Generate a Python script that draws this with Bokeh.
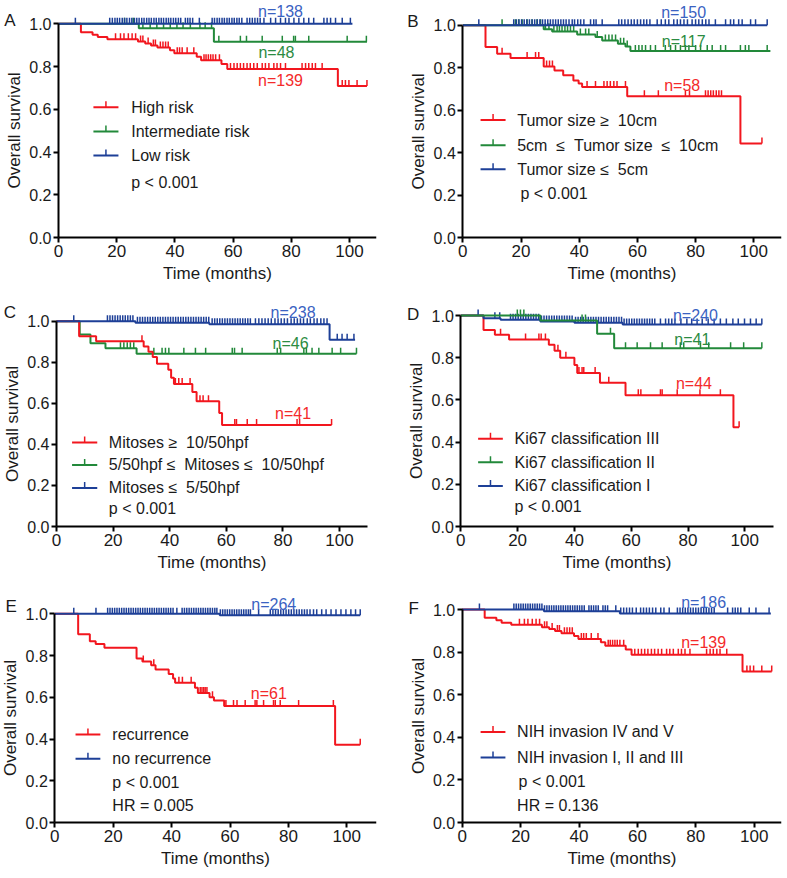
import numpy as np
from bokeh.plotting import figure
from bokeh.layouts import column, row
from bokeh.models import Label, FixedTicker, PrintfTickFormatter, Range1d
from bokeh.embed import file_html
from bokeh.resources import INLINE

FONT = "Liberation Sans"
RED, GREEN, BLUE = "#f2161e", "#22893a", "#1d3f97"
RED_T, GREEN_T, BLUE_T = "#f42a2a", "#2b8b42", "#3a62c2"
TXT = "#1a1a1a"
NB = "\u00a0"

X_TICKS = [0, 20, 40, 60, 80, 100]
Y_TICKS = [0.0, 0.2, 0.4, 0.6, 0.8, 1.0]

# ---------------- data (months, survival) ----------------
# High risk / NIH invasion IV and V (n=139)  -- panels A and F
HIGH_T = [0, 7.7, 11.7, 13.5, 16.8, 27.3, 29.8, 31.8, 34.0, 38.3, 39.8, 47.5, 49.0, 56.0, 58.0, 96.0]
HIGH_S = [1.0, 0.961, 0.949, 0.938, 0.928, 0.917, 0.908, 0.899, 0.889, 0.876, 0.862, 0.846, 0.830, 0.812, 0.788, 0.709]
HIGH_END = 106.0
HIGH_CENS = [19.6, 21.3, 22.5, 24.0, 25.3, 26.5, 28.2, 29.0, 30.8, 32.6, 33.3, 35.0, 35.9, 36.8, 37.7, 40.8, 41.6,
             42.5, 44.2, 46.5, 50.0, 50.7, 51.5, 52.3, 53.1, 54.0, 55.3, 59.1, 60.3, 61.4, 62.5, 63.6, 64.8, 65.9,
             67.1, 68.3, 70.0, 71.1, 72.3, 74.0, 75.1, 76.3, 78.0, 83.7, 84.9, 86.0, 87.2, 88.3, 90.6, 97.5, 98.6,
             99.8, 102.6, 106.0]

A_INT_T = [0, 27.6, 53.4]
A_INT_S = [1.0, 0.979, 0.916]
A_INT_END = 106.0
A_INT_CENS = [22.7, 25.7, 29.0, 31.5, 33.8, 36.1, 38.4, 40.7, 42.8, 45.3, 48.6, 50.4, 52.6, 55.1, 62.5, 64.6, 70.0,
              76.9, 80.8, 81.4, 86.0, 99.2, 105.8]

A_LOW_T = [0]
A_LOW_S = [1.0]
A_LOW_END = 101.0
A_LOW_CENS = [5.8, 17.6, 18.5, 19.4, 20.2, 21.0, 21.9, 22.7, 23.5, 24.4, 25.2, 26.1, 26.9, 27.7, 28.6, 29.4, 30.3,
              31.1, 31.9, 32.8, 33.6, 34.5, 35.3, 36.1, 37.0, 37.8, 38.6, 39.5, 40.3, 41.2, 42.0, 43.6, 44.4, 45.2,
              46.1, 48.4, 52.8, 53.6, 54.5, 55.3, 56.2, 57.0, 57.9, 58.7, 59.6, 60.4, 61.3, 62.1, 63.0, 64.8, 65.7,
              66.6, 67.5, 68.4, 69.3, 70.6, 72.9, 74.6, 76.3, 78.0, 79.2, 80.9, 82.6, 84.3, 86.0, 87.7, 91.2, 92.3,
              93.5, 95.2, 97.5, 100.3]

B_L_T = [0, 7.8, 11.8, 16.4, 27.8, 31.5, 34.5, 38.0, 39.8, 41.0, 56.5, 95.4]
B_L_S = [1.0, 0.897, 0.866, 0.845, 0.806, 0.787, 0.764, 0.740, 0.725, 0.709, 0.665, 0.443]
B_L_END = 102.8
B_L_CENS = [13.5, 22.1, 25.0, 26.1, 28.8, 29.8, 30.8, 42.7, 45.6, 48.5, 49.6, 50.7, 51.9, 53.0, 55.9, 62.4, 67.2,
            76.5, 77.9, 83.4, 84.3, 85.2, 86.1, 87.1, 88.0, 88.9, 102.8]

B_M_T = [0, 27.8, 30.7, 39.3, 45.6, 47.9, 53.3, 55.9, 57.6]
B_M_S = [1.0, 0.981, 0.970, 0.956, 0.944, 0.928, 0.913, 0.900, 0.878]
B_M_END = 105.7
B_M_CENS = [13.5, 18.1, 19.2, 20.4, 22.1, 23.8, 25.5, 26.7, 28.4, 29.6, 31.3, 32.4, 33.2, 34.1, 35.1, 36.0, 37.0,
            38.1, 40.4, 42.2, 43.3, 46.2, 49.0, 50.2, 51.3, 52.5, 54.2, 55.3, 56.5, 59.3, 60.5, 61.6, 62.8, 64.5,
            66.2, 69.6, 71.4, 73.1, 74.8, 76.5, 77.7, 80.0, 81.7, 84.0, 85.7, 88.6, 90.3, 95.4, 97.1, 98.3, 104.6]

B_S_T = [0]
B_S_S = [1.0]
B_S_END = 104.6
B_S_CENS = [5.5, 17.5, 18.4, 19.3, 20.2, 21.1, 22.0, 22.9, 23.8, 24.7, 25.6, 26.5, 27.4, 28.3, 29.2, 30.1, 31.0,
            31.9, 32.8, 33.7, 34.6, 35.5, 36.5, 37.6, 38.4, 39.5, 40.5, 41.6, 43.9, 45.0, 45.8, 47.9, 53.6, 54.6,
            55.7, 56.8, 57.9, 58.9, 60.0, 61.1, 62.2, 63.2, 64.3, 66.8, 68.2, 69.6, 70.8, 72.5, 73.7, 74.8, 76.0,
            77.2, 78.8, 80.0, 81.1, 82.3, 83.5, 84.6, 86.8, 90.3, 92.0, 93.1, 94.8, 96.0, 98.9, 100.6, 104.6]

C_H_T = [0, 8.0, 14.0, 30.8, 32.5, 34.0, 35.5, 39.5, 40.5, 41.5, 48.0, 49.5, 57.5, 58.5]
C_H_S = [1.0, 0.927, 0.902, 0.877, 0.851, 0.826, 0.793, 0.763, 0.725, 0.694, 0.655, 0.610, 0.553, 0.495]
C_H_END = 97.2
C_H_CENS = [30.2, 42.0, 43.2, 44.4, 47.2, 50.7, 51.8, 53.7, 63.0, 63.6, 67.4, 70.7, 85.0, 85.9, 97.2]

C_M_T = [0, 8.2, 12.0, 17.3, 28.3]
C_M_S = [1.0, 0.935, 0.892, 0.868, 0.842]
C_M_END = 106.0
C_M_CENS = [22.6, 23.8, 25.0, 26.1, 27.3, 34.4, 37.3, 38.5, 39.7, 45.0, 49.1, 52.7, 62.1, 62.9, 65.6, 78.0, 79.2,
            87.4, 88.3, 90.3, 92.7, 97.4, 100.4, 106.0]

C_L_T = [0, 27.9, 54.0, 96.5]
C_L_S = [1.0, 0.993, 0.985, 0.910]
C_L_END = 105.5
C_L_CENS = [6.1, 18.0, 18.9, 19.8, 20.7, 21.6, 22.5, 23.4, 24.3, 25.2, 26.1, 27.0, 28.6, 29.5, 30.4, 31.3, 32.2,
            33.1, 34.0, 34.9, 35.8, 36.7, 37.6, 38.5, 39.4, 40.3, 41.2, 42.1, 43.0, 43.9, 44.8, 45.7, 46.6, 47.5,
            48.4, 49.3, 50.2, 51.1, 52.0, 52.9, 53.8, 55.0, 55.9, 56.8, 57.7, 58.6, 59.5, 60.4, 61.3, 62.2, 63.1,
            64.0, 64.9, 65.8, 66.7, 67.6, 68.5, 70.3, 71.5, 72.6, 73.7, 74.8, 75.9, 77.2, 78.3, 79.4, 80.5, 81.6,
            82.9, 84.0, 85.1, 86.2, 87.3, 88.6, 89.7, 91.0, 92.1, 93.4, 94.5, 95.6, 99.2, 100.9, 102.7, 105.1]

D_H_T = [0, 8.0, 12.0, 17.0, 31.0, 33.0, 35.0, 40.0, 41.0, 49.0, 58.0, 96.0]
D_H_S = [1.0, 0.931, 0.909, 0.886, 0.861, 0.833, 0.800, 0.765, 0.727, 0.681, 0.622, 0.470]
D_H_END = 98.0
D_H_CENS = [14.0, 22.8, 27.5, 28.3, 29.8, 34.2, 37.0, 41.6, 42.7, 43.3, 47.3, 52.1, 62.5, 63.4, 70.3, 70.9, 76.2,
            84.2, 91.4, 98.0]

D_M_T = [0, 28.0, 48.0, 54.0]
D_M_S = [1.0, 0.976, 0.914, 0.845]
D_M_END = 106.0
D_M_CENS = [19.9, 21.0, 22.2, 42.7, 43.9, 52.7, 58.0, 62.1, 66.8, 70.9, 77.3, 78.5, 84.4, 87.3, 95.0, 99.6, 106.0]

D_L_T = [0, 8.0, 14.0, 28.0, 40.0, 57.0]
D_L_S = [1.0, 0.987, 0.980, 0.972, 0.966, 0.957]
D_L_END = 106.0
D_L_CENS = [6.1, 12.0, 13.7, 17.5, 18.4, 19.3, 20.2, 21.1, 22.0, 22.9, 23.8, 24.7, 25.6, 26.5, 27.4, 28.4, 29.3,
            30.2, 31.1, 32.0, 32.9, 33.8, 34.7, 35.6, 36.5, 37.4, 38.3, 39.2, 40.4, 41.3, 42.2, 43.1, 44.0, 44.9,
            45.8, 46.7, 47.6, 48.5, 49.4, 50.3, 51.2, 52.1, 53.0, 53.9, 54.8, 55.7, 56.6, 57.5, 58.4, 59.3, 60.2,
            61.1, 62.0, 62.9, 63.8, 64.7, 65.6, 66.5, 67.4, 68.3, 70.3, 72.1, 73.2, 74.3, 75.4, 77.5, 79.6, 81.3,
            83.2, 85.0, 87.1, 89.2, 91.4, 93.5, 95.8, 97.7, 99.9, 102.0, 104.0, 106.0]

E_R_T = [0, 8.0, 12.0, 14.0, 17.0, 28.0, 30.0, 33.0, 34.5, 39.0, 40.5, 41.2, 48.0, 49.0, 53.0, 54.5, 58.0, 96.0]
E_R_S = [1.0, 0.902, 0.869, 0.855, 0.837, 0.786, 0.771, 0.754, 0.733, 0.712, 0.690, 0.670, 0.646, 0.621, 0.600,
         0.584, 0.558, 0.372]
E_R_END = 104.6
E_R_CENS = [30.3, 33.9, 42.5, 43.7, 46.7, 49.8, 50.4, 51.0, 51.5, 52.1, 54.0, 58.6, 61.2, 62.4, 65.2, 68.6, 69.2,
            71.5, 74.9, 75.5, 77.2, 83.5, 95.4, 104.6]

E_N_T = [0, 56.5]
E_N_S = [1.0, 0.993]
E_N_END = 104.6
E_N_CENS = [6.5, 14.1, 18.1, 18.9, 19.7, 20.5, 21.3, 22.1, 22.9, 23.7, 24.5, 25.3, 26.1, 26.9, 27.7, 28.5, 29.3,
            30.1, 30.9, 31.7, 32.5, 33.3, 34.1, 34.9, 35.7, 36.5, 37.3, 38.1, 38.9, 39.7, 40.5, 41.8, 43.6, 44.4,
            45.2, 46.0, 46.8, 47.6, 48.4, 49.2, 50.0, 50.8, 51.6, 52.4, 53.2, 54.0, 54.8, 55.5, 56.7, 57.5, 58.3,
            59.1, 59.9, 60.7, 61.5, 62.3, 63.1, 63.9, 64.7, 65.5, 66.3, 67.0, 69.8, 73.8, 74.7, 75.6, 76.5, 77.4,
            78.3, 79.2, 80.1, 81.0, 81.9, 82.8, 83.7, 84.6, 85.5, 86.4, 87.4, 88.6, 89.7, 91.4, 92.9, 94.6, 96.3,
            98.0, 99.7, 101.4, 103.0, 104.6]

F_L_T = [0, 28.0, 54.0]
F_L_S = [1.0, 0.992, 0.981]
F_L_END = 105.7
F_L_CENS = [5.9, 17.7, 18.5, 19.3, 20.1, 20.9, 21.7, 22.5, 23.3, 24.1, 24.9, 25.7, 26.5, 27.3, 28.2, 29.0, 29.8,
            30.6, 31.4, 32.2, 33.0, 33.8, 34.6, 35.4, 36.2, 37.0, 37.8, 38.6, 39.4, 40.2, 41.0, 41.8, 43.4, 44.2,
            45.0, 45.8, 46.6, 48.2, 49.0, 49.8, 52.6, 54.3, 55.3, 56.3, 57.3, 58.3, 59.6, 61.1, 62.1, 63.1, 64.1,
            65.2, 66.3, 68.0, 69.1, 70.9, 73.7, 74.6, 75.5, 76.4, 77.3, 78.2, 79.1, 80.0, 80.9, 81.8, 82.7, 83.6,
            84.5, 85.4, 86.3, 90.9, 92.6, 93.5, 94.4, 95.4, 98.3, 100.6, 105.1]

FRAME_W = 376


def style_axes(p):
    p.outline_line_color = None
    p.xgrid.visible = False
    p.ygrid.visible = False
    p.background_fill_color = "white"
    p.border_fill_color = "white"
    for ax in (p.xaxis[0], p.yaxis[0]):
        ax.axis_line_width = 2
        ax.axis_line_color = "black"
        ax.major_tick_line_width = 2
        ax.major_tick_line_color = "black"
        ax.major_tick_out = 5
        ax.major_tick_in = 0
        ax.minor_tick_line_color = None
        ax.major_label_text_font = FONT
        ax.major_label_text_font_size = "17px"
        ax.major_label_text_color = TXT
        ax.major_label_standoff = 2
        ax.axis_label_text_font = FONT
        ax.axis_label_text_font_size = "17px"
        ax.axis_label_text_font_style = "normal"
        ax.axis_label_text_color = TXT
        ax.axis_label_standoff = 4
        ax.fixed_location = 0
    p.yaxis.major_label_text_font_size = "16px"
    p.yaxis.axis_label_standoff = 2
    p.xaxis.ticker = FixedTicker(ticks=X_TICKS)
    p.yaxis.ticker = FixedTicker(ticks=Y_TICKS)
    p.yaxis.formatter = PrintfTickFormatter(format="%.1f")
    p.yaxis.bounds = (0, 1)
    p.xaxis.bounds = (0, 110)
    p.xaxis.axis_label = "Time (months)"
    p.yaxis.axis_label = "Overall survival"


def add_curve(p, T, S, end, cens, color):
    xs = list(T) + [end]
    ys = list(S) + [S[-1]]
    p.step(xs, ys, mode="after", line_color=color, line_width=2)
    idx = np.searchsorted(np.array(T), np.array(cens), side="right") - 1
    cy = np.array(S)[idx]
    p.ray(x=list(cens), y=list(cy), length=6, angle=np.pi / 2, length_units="screen",
          line_color=color, line_width=1.5)


def text(p, x, y, s, color=TXT, align="left", baseline="middle", size="16px"):
    p.add_layout(Label(x=x, y=y, text=s, text_font=FONT, text_font_size=size, text_color=color,
                       text_align=align, text_baseline=baseline))


def build(width, height, right_border, zero_px, ppm, zero_y, unit, curves, letter, letter_x, letter_y,
          nlabels, legend, sample_x, text_x, notes):
    p = figure(width=width, height=height,
               x_range=Range1d(-zero_px / ppm, (FRAME_W - zero_px) / ppm),
               y_range=Range1d(-(height - zero_y) / unit, zero_y / unit),
               output_backend="svg", toolbar_location=None,
               min_border_left=0, min_border_right=right_border, min_border_top=0, min_border_bottom=0)
    style_axes(p)
    for T, S, end, cens, color in curves:
        add_curve(p, T, S, end, cens, color)
    for label, color, ry in legend:
        p.segment(x0=[sample_x[0]], y0=[ry], x1=[sample_x[1]], y1=[ry], line_color=color, line_width=2)
        p.ray(x=[(sample_x[0] + sample_x[1]) / 2], y=[ry], length=6, angle=np.pi / 2,
              length_units="screen", line_color=color, line_width=1.5)
        text(p, text_x, ry, label)
    for s, x, y in notes:
        text(p, x, y, s)
    for s, x, y, color in nlabels:
        text(p, x, y, s, color=color, align="center")
    text(p, letter_x, letter_y, letter, baseline="alphabetic", size="17px")
    return p


W1, W2 = 405, 380
R1, R2 = W1 - FRAME_W, W2 - FRAME_W
H1, H2, H3 = 287, 289, 296

pA = build(W1, H1, R1, 58.0, 2.91, 237, 213.7,
           [(HIGH_T, HIGH_S, HIGH_END, HIGH_CENS, RED),
            (A_INT_T, A_INT_S, A_INT_END, A_INT_CENS, GREEN),
            (A_LOW_T, A_LOW_S, A_LOW_END, A_LOW_CENS, BLUE)],
           "A", -18.6, 1.015,
           [("n=138", 76.3, 1.058, BLUE_T), ("n=48", 74.9, 0.864, GREEN_T), ("n=139", 76.3, 0.735, RED_T)],
           [("High risk", RED, 0.610), ("Intermediate risk", GREEN, 0.496), ("Low risk", BLUE, 0.384)],
           (12.0, 20.6), 25.0, [("p < 0.001", 25.0, 0.259)])

pB = build(W2, H1, R2, 57.3, 2.91, 237, 212.3,
           [(B_L_T, B_L_S, B_L_END, B_L_CENS, RED),
            (B_M_T, B_M_S, B_M_END, B_M_CENS, GREEN),
            (B_S_T, B_S_S, B_S_END, B_S_CENS, BLUE)],
           "B", -19.1, 1.019,
           [("n=150", 75.9, 1.061, BLUE_T), ("n=117", 75.9, 0.925, GREEN_T), ("n=58", 75.4, 0.717, RED_T)],
           [("Tumor size \u2265 " + NB + "10cm", RED, 0.553),
            ("5cm " + NB + "\u2264 " + NB + "Tumor size " + NB + "\u2264 " + NB + "10cm", GREEN, 0.435),
            ("Tumor size \u2264 " + NB + "5cm", BLUE, 0.321)],
           (6.1, 14.7), 18.7, [("p < 0.001", 19.8, 0.208)])

pC = build(W1, H2, R1, 56.0, 2.83, 239, 205.3,
           [(C_M_T, C_M_S, C_M_END, C_M_CENS, GREEN),
            (C_H_T, C_H_S, C_H_END, C_H_CENS, RED),
            (C_L_T, C_L_S, C_L_END, C_L_CENS, BLUE)],
           "C", -18.6, 1.044,
           [("n=238", 83.6, 1.043, BLUE_T), ("n=46", 82.7, 0.892, GREEN_T), ("n=41", 83.6, 0.548, RED_T)],
           [("Mitoses \u2265 " + NB + "10/50hpf", RED, 0.409),
            ("5/50hpf \u2264 " + NB + "Mitoses \u2264 " + NB + "10/50hpf", GREEN, 0.300),
            ("Mitoses \u2264 " + NB + "5/50hpf", BLUE, 0.188)],
           (5.5, 14.4), 18.5, [("p < 0.001", 18.5, 0.089)])

pD = build(W2, H2, R2, 55.3, 2.84, 239, 211.0,
           [(D_H_T, D_H_S, D_H_END, D_H_CENS, RED),
            (D_L_T, D_L_S, D_L_END, D_L_CENS, BLUE),
            (D_M_T, D_M_S, D_M_END, D_M_CENS, GREEN)],
           "D", -18.9, 1.005,
           [("n=240", 82.6, 1.0, BLUE_T), ("n=41", 81.5, 0.888, GREEN_T), ("n=44", 82.1, 0.680, RED_T)],
           [("Ki67 classification III", RED, 0.416), ("Ki67 classification II", GREEN, 0.304),
            ("Ki67 classification I", BLUE, 0.192)],
           (6.1, 14.8), 18.9, [("p < 0.001", 18.9, 0.096)])

pE = build(W1, H3, R1, 54.3, 2.92, 246, 208.7,
           [(E_R_T, E_R_S, E_R_END, E_R_CENS, RED),
            (E_N_T, E_N_S, E_N_END, E_N_CENS, BLUE)],
           "E", -16.9, 1.036,
           [("n=264", 75.0, 1.044, BLUE_T), ("n=61", 73.3, 0.617, RED_T)],
           [("recurrence", RED, 0.422), ("no recurrence", BLUE, 0.306)],
           (7.1, 15.6), 19.7, [("p < 0.001", 19.7, 0.194), ("HR = 0.005", 19.7, 0.083)])

pF = build(W2, H3, R2, 56.7, 2.92, 246, 213.0,
           [(HIGH_T, HIGH_S, HIGH_END, HIGH_CENS, RED),
            (F_L_T, F_L_S, F_L_END, F_L_CENS, BLUE)],
           "F", -18.4, 1.005,
           [("n=186", 82.7, 1.034, BLUE_T), ("n=139", 82.7, 0.847, RED_T)],
           [("NIH invasion IV and V", RED, 0.425), ("NIH invasion I, II and III", BLUE, 0.305)],
           (6.3, 14.8), 18.8, [("p < 0.001", 19.3, 0.194), ("HR = 0.136", 18.8, 0.081)])

layout = column(row(pA, pB), row(pC, pD), row(pE, pF))
open("out.html", "w").write(file_html(layout, INLINE))
